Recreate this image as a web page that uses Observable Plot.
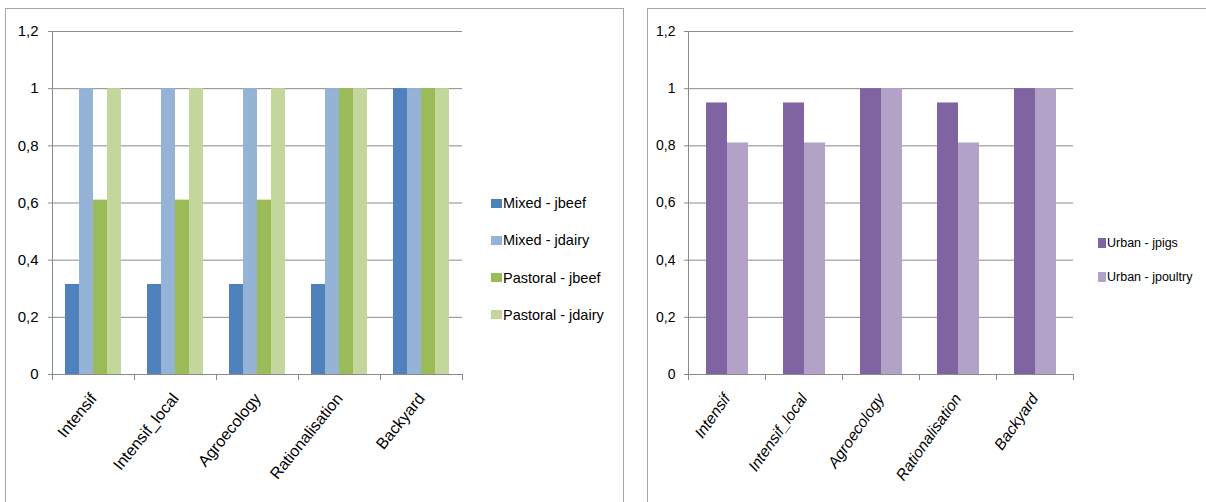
<!DOCTYPE html>
<html>
<head>
<meta charset="utf-8">
<script src="https://cdn.jsdelivr.net/npm/d3@7"></script>
<script src="https://cdn.jsdelivr.net/npm/@observablehq/plot@0.6"></script>
<style>
  body { margin: 0; background: #fff; }
  #page { position: relative; width: 1206px; height: 502px; overflow: hidden; font-family: "Liberation Sans", sans-serif; }
  .panel { position: absolute; border: 1px solid #a6a6a6; background: #fff; box-sizing: border-box; }
  .chart { position: absolute; top: 0; }
  .legend { position: absolute; color: #000; }
  .legend .item { position: absolute; white-space: nowrap; display: flex; align-items: center; height: 20px; }
  .legend .sw { display: inline-block; margin-right: 1px; }
</style>
</head>
<body>
<div id="page">
  <div class="panel" style="left:5px; top:8px; width:619px; height:520px;"></div>
  <div class="panel" style="left:647px; top:8px; width:600px; height:520px;"></div>
</div>
<script>
// ---- data ----
const categories = ["Intensif", "Intensif_local", "Agroecology", "Rationalisation", "Backyard"];
const leftSeries = ["Mixed - jbeef", "Mixed - jdairy", "Pastoral - jbeef", "Pastoral - jdairy"];
const mixedBeef     = [0.315, 0.315, 0.315, 0.315, 1];
const mixedDairy    = [1, 1, 1, 1, 1];
const pastoralBeef  = [0.61, 0.61, 0.61, 1, 1];
const pastoralDairy = [1, 1, 1, 1, 1];
const rightSeries = ["Urban - jpigs", "Urban - jpoultry"];
const urbanPigs    = [0.95, 0.95, 1, 0.95, 1];
const urbanPoultry = [0.81, 0.81, 1, 0.81, 1];
const yTicks = [0, 0.2, 0.4, 0.6, 0.8, 1, 1.2];
const leftColors = ["#4f81bd", "#95b3d7", "#9bbb59", "#c3d69b"];
const rightColors = ["#8064a2", "#b3a2c7"];

const fmt = d => String(d).replace(".", ",");
const GRID = "#8a8a8a";
const FONT = '"Liberation Sans", Arial, sans-serif';

function toRows(seriesNames, valueArrays) {
  const rows = [];
  categories.forEach((c, i) => {
    seriesNames.forEach((s, j) => rows.push({category: c, series: s, value: valueArrays[j][i]}));
  });
  return rows;
}

function makeChart({rows, seriesNames, colors, width, marginLeft, marginRight, tickPadding, italic, paddingOuter, yFont, xFont, rotate, xPad}) {
  const height = 500, marginTop = 31, marginBottom = 126;
  const innerH = height - marginTop - marginBottom;
  return Plot.plot({
    width, height, marginTop, marginBottom, marginLeft, marginRight,
    style: {fontFamily: FONT, fontSize: "14px", color: "#000", background: "transparent", overflow: "visible"},
    fx: {domain: categories, padding: 0, label: null},
    x: {domain: seriesNames, paddingInner: 0, paddingOuter, axis: null},
    y: {domain: [0, 1.2], label: null},
    color: {domain: seriesNames, range: colors},
    marks: [
      Plot.gridY(yTicks, {stroke: GRID, strokeOpacity: 1}),
      Plot.barY(rows, {fx: "category", x: "series", y: "value", fill: "series", inset: 0}),
      Plot.ruleY([0], {stroke: GRID}),
      Plot.frame({anchor: "left", facetAnchor: "left", stroke: GRID}),
      Plot.frame({anchor: "left", stroke: GRID, insetTop: innerH, insetBottom: -5}),
      Plot.frame({anchor: "right", stroke: GRID, insetTop: innerH, insetBottom: -5}),
      Plot.axisY(yTicks, {tickSize: 4, tickPadding, tickFormat: fmt, stroke: GRID, fill: "#000", fontSize: yFont, label: null}),
      Plot.axisFx({anchor: "bottom", tickRotate: rotate, tickSize: 0, tickPadding: xPad, label: null, fill: "#000", fontSize: xFont, fontStyle: italic ? "italic" : "normal"})
    ]
  });
}

const page = document.getElementById("page");

const left = makeChart({rows: toRows(leftSeries, [mixedBeef, mixedDairy, pastoralBeef, pastoralDairy]),
  seriesNames: leftSeries, colors: leftColors, width: 480, marginLeft: 51, marginRight: 17, tickPadding: 10,
  italic: false, paddingOuter: 0.775, yFont: 15, xFont: 16, rotate: -51, xPad: 21});
left.classList.add("chart");
left.style.left = "0px";
page.appendChild(left);

const right = makeChart({rows: toRows(rightSeries, [urbanPigs, urbanPoultry]),
  seriesNames: rightSeries, colors: rightColors, width: 460, marginLeft: 50, marginRight: 21.7, tickPadding: 9,
  italic: true, paddingOuter: 0.754, yFont: 14, xFont: 15.5, rotate: -55, xPad: 21});
right.classList.add("chart");
right.style.left = "636px";
page.appendChild(right);

function makeLegend(names, colors, x, y0, step, fontSize, swW, swH) {
  const lg = document.createElement("div");
  lg.className = "legend";
  lg.style.fontSize = fontSize + "px";
  names.forEach((n, i) => {
    const it = document.createElement("div");
    it.className = "item";
    it.style.left = x + "px";
    it.style.top = (y0 + i * step - 10) + "px";
    const sw = document.createElement("span");
    sw.className = "sw";
    sw.style.background = colors[i];
    sw.style.width = swW + "px";
    sw.style.height = swH + "px";
    it.appendChild(sw);
    it.appendChild(document.createTextNode(n));
    lg.appendChild(it);
  });
  page.appendChild(lg);
}
makeLegend(leftSeries, leftColors, 491, 203, 37.3, 14.5, 11, 9);
makeLegend(rightSeries, rightColors, 1098, 243, 34, 12.5, 8, 10);
</script>
</body>
</html>
